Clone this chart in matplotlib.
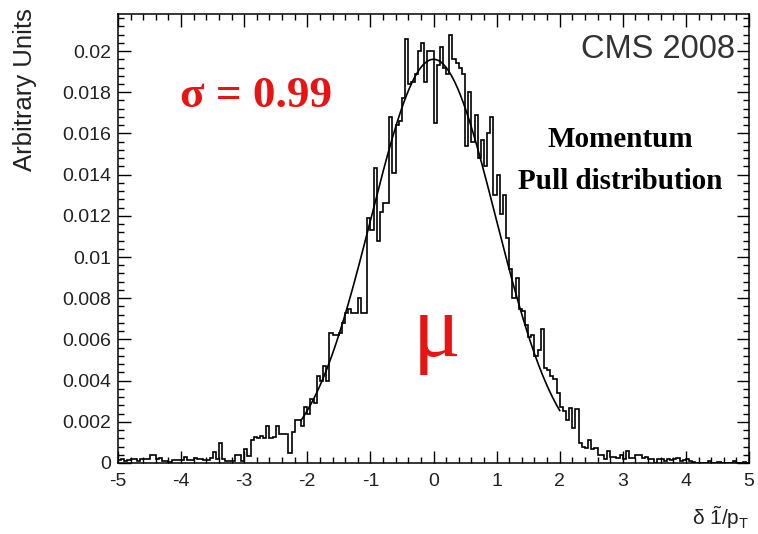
import numpy as np
import matplotlib
matplotlib.use("Agg")
import matplotlib.pyplot as plt
from matplotlib.ticker import MultipleLocator, FixedLocator, FixedFormatter

# ---------------- data ----------------
x_min, x_max, n_bins = -5.0, 5.0, 200
value_scale = 1e-4
bin_values_e4 = [
    # -5.00 .. -3.00
    1.5, 2, 1, 1.5, 2, 2, 1, 2, 2, 2,
    4, 4, 2, 2.5, 1, 1, 0.5, 1.5, 1.5, 1.5,
    1.5, 3, 1.5, 1.5, 2.5, 2, 2, 1.5, 1.5, 2.5,
    5.5, 2, 9.5, 2, 1.2, 1.2, 1.2, 4, 4, 1.2,
    # -3.00 .. -1.00
    6.8, 3.5, 11, 12.5, 12, 13, 12, 18, 12, 12.5,
    18, 14, 14, 14, 4.8, 15, 21, 21, 18, 27,
    24, 31, 29, 42, 40, 47, 40, 63, 62, 62,
    63, 68, 73, 75, 73, 73, 80, 73, 73, 119,
    # -1.00 .. 1.00
    113, 143, 108, 122, 126, 126, 168, 141, 164, 166,
    177, 206, 184, 185, 189, 200, 204, 185, 200, 200,
    165, 193, 202, 192, 189, 208, 196, 194, 192, 189,
    154, 180, 156, 169, 148, 157, 144, 160, 168, 130,
    # 1.00 .. 3.00
    140, 121, 130, 109, 94, 80, 90, 75, 74, 67,
    61, 62, 52, 55, 65, 46, 45, 42, 41, 34,
    27, 25, 21, 26.6, 17, 26, 9.7, 8, 7.2, 11,
    7, 7.2, 4, 4, 2, 6, 3, 3, 2.5, 4,
    # 3.00 .. 5.00
    2, 6, 2.5, 2.5, 4, 4, 2.5, 3, 2, 2,
    0, 2, 2, 1, 2, 1.5, 2, 2.5, 1, 1.5,
    2, 1, 0.5, 0, 0, 0, 0, 1, 0, 0,
    0.5, 0, 0, 0, 0, 1, 0, 0, 0.5, 0,
]

fit_amplitude = 0.0196
fit_mean = 0.0
fit_sigma = 0.99
fit_range = (-2.1, 2.0)

x_ticks = [-5, -4, -3, -2, -1, 0, 1, 2, 3, 4, 5]
x_tick_labels = ["-5", "-4", "-3", "-2", "-1", "0", "1", "2", "3", "4", "5"]
y_ticks = [0, 0.002, 0.004, 0.006, 0.008, 0.010, 0.012, 0.014, 0.016, 0.018, 0.020]
y_tick_labels = ["0", "0.002", "0.004", "0.006", "0.008", "0.01",
                 "0.012", "0.014", "0.016", "0.018", "0.02"]
y_max = 0.0218

# ---------------- style ----------------
plt.rcParams["font.family"] = ["Liberation Sans", "DejaVu Sans"]
plt.rcParams["mathtext.fontset"] = "custom"
plt.rcParams["mathtext.rm"] = "Liberation Sans"
plt.rcParams["mathtext.it"] = "Liberation Sans"
plt.rcParams["mathtext.bf"] = "Liberation Sans:bold"

fig = plt.figure(figsize=(7.58, 5.34), dpi=100)
ax = fig.add_axes([0.1557, 0.1330, 0.8324, 0.8408])

edges = np.linspace(x_min, x_max, n_bins + 1)
values = np.array(bin_values_e4) * value_scale
ax.stairs(values, edges, color="black", linewidth=1.2, baseline=0)

xf = np.linspace(fit_range[0], fit_range[1], 400)
yf = fit_amplitude * np.exp(-0.5 * ((xf - fit_mean) / fit_sigma) ** 2)
ax.plot(xf, yf, color="black", linewidth=1.2)

ax.set_xlim(x_min, x_max)
ax.set_ylim(0, y_max)

ax.xaxis.set_major_locator(FixedLocator(x_ticks))
ax.xaxis.set_major_formatter(FixedFormatter(x_tick_labels))
ax.xaxis.set_minor_locator(MultipleLocator(0.2))
ax.yaxis.set_major_locator(FixedLocator(y_ticks))
ax.yaxis.set_major_formatter(FixedFormatter(y_tick_labels))
ax.yaxis.set_minor_locator(MultipleLocator(0.0004))

ax.tick_params(which="both", direction="in", top=True, right=True,
               width=1.0, colors="black", labelcolor="#222222", labelsize=14)
ax.tick_params(which="major", length=9)
ax.tick_params(which="minor", length=4.5)
ax.tick_params(axis="x", which="major", pad=7)
ax.tick_params(axis="y", which="major", pad=5)
for sp in ax.spines.values():
    sp.set_linewidth(1.1)

ax.set_ylabel("Arbitrary Units", fontsize=18.5, color="#222222")
ax.yaxis.set_label_coords(-0.147, 1.012)
ax.yaxis.label.set_horizontalalignment("right")
ax.yaxis.label.set_verticalalignment("center")

ax.set_xlabel(r"$\delta\ \tilde{1}/p_{T}$", fontsize=15, color="#222222")
ax.xaxis.set_label_coords(1.0, -0.122)
ax.xaxis.label.set_horizontalalignment("right")
ax.xaxis.label.set_verticalalignment("center")

ax.text(0.978, 0.92, "CMS 2008", transform=ax.transAxes, ha="right", va="center",
        fontsize=23.5, color="#333333")
ax.text(0.098, 0.817, "σ = 0.99", transform=ax.transAxes, ha="left", va="center",
        fontsize=32.5, color="#e81414", fontweight="bold", family="Liberation Serif")
ax.text(0.7956, 0.7194, "Momentum", transform=ax.transAxes, ha="center", va="center",
        fontsize=21, color="black", fontweight="bold", family="Liberation Serif")
ax.text(0.7956, 0.628, "Pull distribution", transform=ax.transAxes, ha="center",
        va="center", fontsize=21, color="black", fontweight="bold",
        family="Liberation Serif")
ax.text(0.5055, 0.238, "μ", transform=ax.transAxes, ha="center", va="baseline",
        fontsize=64, color="#e81414", family="Liberation Serif")

fig.savefig("out.png", dpi=100, facecolor="white")
